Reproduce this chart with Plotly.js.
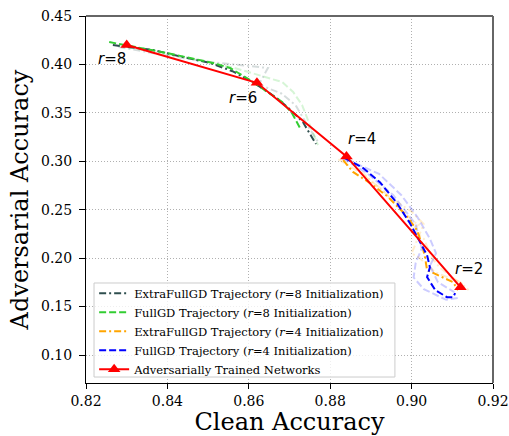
<!DOCTYPE html>
<html><head><meta charset="utf-8">
<script src="https://cdn.plot.ly/plotly-3.0.1.min.js"></script>
<style>html,body{margin:0;padding:0;background:#fff}</style>
</head><body><div id="chart" style="width:509px;height:436px"></div>
<script>
// Adversarially trained networks
const advClean = [0.830, 0.862, 0.884, 0.912];
const advRobust = [0.420, 0.381, 0.305, 0.170];
const advLabels = ["r=8", "r=6", "r=4", "r=2"];
const labelX = [0.8264, 0.8586, 0.8878, 0.9141];
const labelY = [0.4061, 0.3658, 0.3229, 0.1886];

// ExtraFullGD r=8 (main)
const efg8X = [0.8266, 0.8365, 0.8438, 0.8505, 0.8560, 0.8610, 0.8669, 0.8700, 0.8733, 0.8750, 0.8765];
const efg8Y = [0.4200, 0.4149, 0.4076, 0.4015, 0.3930, 0.3818, 0.3653, 0.3540, 0.3405, 0.3290, 0.3178];
// FullGD r=8 (main)
const fg8X = [0.8257, 0.8333, 0.8399, 0.8512, 0.8554, 0.8603, 0.8640, 0.8682, 0.8706, 0.8726];
const fg8Y = [0.4231, 0.4170, 0.4118, 0.4015, 0.3963, 0.3839, 0.3736, 0.3612, 0.3498, 0.3343];
// faint r=8 runs
const efg8bX = [0.8280, 0.8400, 0.8505, 0.8647, 0.8628];
const efg8bY = [0.4180, 0.4090, 0.4025, 0.3963, 0.3818];
const efg8cX = [0.8620, 0.8680, 0.8715, 0.8740, 0.8770];
const efg8cY = [0.3800, 0.3700, 0.3580, 0.3400, 0.3200];
const fg8bX = [0.8300, 0.8450, 0.8560, 0.8647, 0.8682, 0.8709, 0.8731, 0.8750, 0.8770];
const fg8bY = [0.4180, 0.4070, 0.3970, 0.3860, 0.3818, 0.3715, 0.3580, 0.3374, 0.3168];

// ExtraFullGD r=4 (main)
const efg4X = [0.8832, 0.8856, 0.8898, 0.8940, 0.8985, 0.9013, 0.9025, 0.9033, 0.9038, 0.9053, 0.9077, 0.9102, 0.9114];
const efg4Y = [0.3012, 0.2890, 0.2775, 0.2640, 0.2450, 0.2290, 0.2150, 0.2010, 0.1876, 0.1845, 0.1800, 0.1752, 0.1670];
// FullGD r=4 (main)
const fg4X = [0.8836, 0.8881, 0.8922, 0.8964, 0.8996, 0.9021, 0.9038, 0.9045, 0.9038, 0.9058, 0.9087, 0.9102, 0.9107];
const fg4Y = [0.3033, 0.2930, 0.2785, 0.2568, 0.2360, 0.2155, 0.2030, 0.1907, 0.1804, 0.1670, 0.1597, 0.1597, 0.1639];
// faint r=4 runs
const fg4bX = [0.8840, 0.8920, 0.8975, 0.9015, 0.9045, 0.9060, 0.9045, 0.9065, 0.9105];
const fg4bY = [0.3020, 0.2870, 0.2650, 0.2420, 0.2200, 0.2050, 0.1920, 0.1750, 0.1650];
const fg4cX = [0.8830, 0.8890, 0.8955, 0.9010, 0.9025, 0.9010, 0.9005, 0.9030, 0.9085, 0.9115];
const fg4cY = [0.3030, 0.2880, 0.2650, 0.2350, 0.2100, 0.1950, 0.1800, 0.1680, 0.1570, 0.1590];
const efg4bX = [0.8820, 0.8860, 0.8890, 0.8930, 0.8960, 0.8990, 0.9000, 0.9020, 0.9000, 0.9030, 0.9050, 0.9070, 0.9100, 0.9130];
const efg4bY = [0.3020, 0.2920, 0.2830, 0.2700, 0.2550, 0.2450, 0.2380, 0.2350, 0.2300, 0.2200, 0.2000, 0.1900, 0.1800, 0.1720];
const efg4cX = [0.8850, 0.8900, 0.8950, 0.9000, 0.9030, 0.9000, 0.9020, 0.9060, 0.9120, 0.9140];
const efg4cY = [0.3000, 0.2800, 0.2620, 0.2480, 0.2350, 0.2050, 0.2000, 0.1850, 0.1750, 0.1670];

const xTicks = [0.82, 0.84, 0.86, 0.88, 0.90, 0.92];
const yTicks = [0.10, 0.15, 0.20, 0.25, 0.30, 0.35, 0.40, 0.45];

const DSG = '#2F4F4F', GRN = '#32CD32', ORG = '#FFA500', BLU = '#0000FF';
const DASH = '7px,3px', DASHDOT = '7px,3px,2px,3px';
function faint(x, y, color, dash) {
  return {x, y, mode: 'lines', showlegend: false, hoverinfo: 'skip', opacity: 0.2,
    line: {color, width: 2, dash}};
}
const traces = [
  faint(efg8bX, efg8bY, DSG, DASHDOT),
  faint(efg8cX, efg8cY, DSG, DASHDOT),
  faint(fg8bX, fg8bY, GRN, DASH),
  faint(efg4bX, efg4bY, ORG, DASHDOT),
  faint(efg4cX, efg4cY, ORG, DASHDOT),
  faint(fg4bX, fg4bY, BLU, DASH),
  faint(fg4cX, fg4cY, BLU, DASH),
  {x: efg8X, y: efg8Y, mode: 'lines', name: 'ExtraFullGD Trajectory (<i>r</i>=8 Initialization)', line: {color: DSG, width: 2, dash: DASHDOT}},
  {x: fg8X, y: fg8Y, mode: 'lines', name: 'FullGD Trajectory (<i>r</i>=8 Initialization)', line: {color: GRN, width: 2, dash: DASH}},
  {x: efg4X, y: efg4Y, mode: 'lines', name: 'ExtraFullGD Trajectory (<i>r</i>=4 Initialization)', line: {color: ORG, width: 2, dash: DASHDOT}},
  {x: fg4X, y: fg4Y, mode: 'lines', name: 'FullGD Trajectory (<i>r</i>=4 Initialization)', line: {color: BLU, width: 2, dash: DASH}},
  {x: advClean, y: advRobust, mode: 'lines+markers', name: 'Adversarially Trained Networks',
   line: {color: 'red', width: 2}, marker: {symbol: 'triangle-up', size: 11, color: 'red'}}
];

const annotations = advLabels.map((t, i) => ({
  x: labelX[i], y: labelY[i], xref: 'x', yref: 'y', showarrow: false,
  text: '<i>r</i>' + t.slice(1),
  font: {family: 'DejaVu Sans', size: 15, color: '#000'}
}));

const serif = 'DejaVu Serif';
const layout = {
  width: 509, height: 436,
  margin: {l: 86, r: 16, t: 16, b: 53},
  paper_bgcolor: '#fff', plot_bgcolor: '#fff',
  showlegend: true,
  legend: {x: 0.02, y: -0.002, xanchor: 'left', yanchor: 'bottom',
    bgcolor: 'rgba(0,0,0,0)', borderwidth: 0,
    font: {family: serif, size: 11.5, color: '#000'}, tracegroupgap: 0},
  xaxis: {range: [0.82, 0.92], tickvals: xTicks, ticktext: xTicks.map(v => v.toFixed(2)),
    showgrid: true, gridcolor: '#b0b0b0', griddash: '1px,2px', gridwidth: 1,
    showline: true, linecolor: '#000', linewidth: 1, ticks: 'outside', ticklen: 5, tickcolor: '#000',
    zeroline: false, tickfont: {family: serif, size: 14, color: '#000'},
    title: {text: 'Clean Accuracy', font: {family: serif, size: 24, color: '#000'}, standoff: 5}},
  yaxis: {range: [0.0711, 0.45], tickvals: yTicks, ticktext: yTicks.map(v => v.toFixed(2)),
    showgrid: true, gridcolor: '#b0b0b0', griddash: '1px,2px', gridwidth: 1,
    showline: true, linecolor: '#000', linewidth: 1, ticks: 'outside', ticklen: 6, tickcolor: '#000',
    ticklabelstandoff: 4,
    zeroline: false, tickfont: {family: serif, size: 14, color: '#000'},
    title: {text: 'Adversarial Accuracy', font: {family: serif, size: 24, color: '#000'}, standoff: 5}},
  shapes: [
    {type: 'line', xref: 'paper', yref: 'paper', x0: 0, x1: 1, y0: 1, y1: 1, line: {color: '#666', width: 2}},
    {type: 'line', xref: 'paper', yref: 'paper', x0: 1, x1: 1, y0: 0, y1: 1, line: {color: '#666', width: 2}},
    {type: 'rect', xref: 'paper', yref: 'paper', layer: 'above', x0: 0.0197, x1: 0.759, y0: 0.0163, y1: 0.2725,
     fillcolor: 'rgba(255,255,255,0.8)', line: {color: '#cccccc', width: 1}}
  ],
  annotations
};
Plotly.newPlot('chart', traces, layout, {displayModeBar: false, staticPlot: true});
</script></body></html>
